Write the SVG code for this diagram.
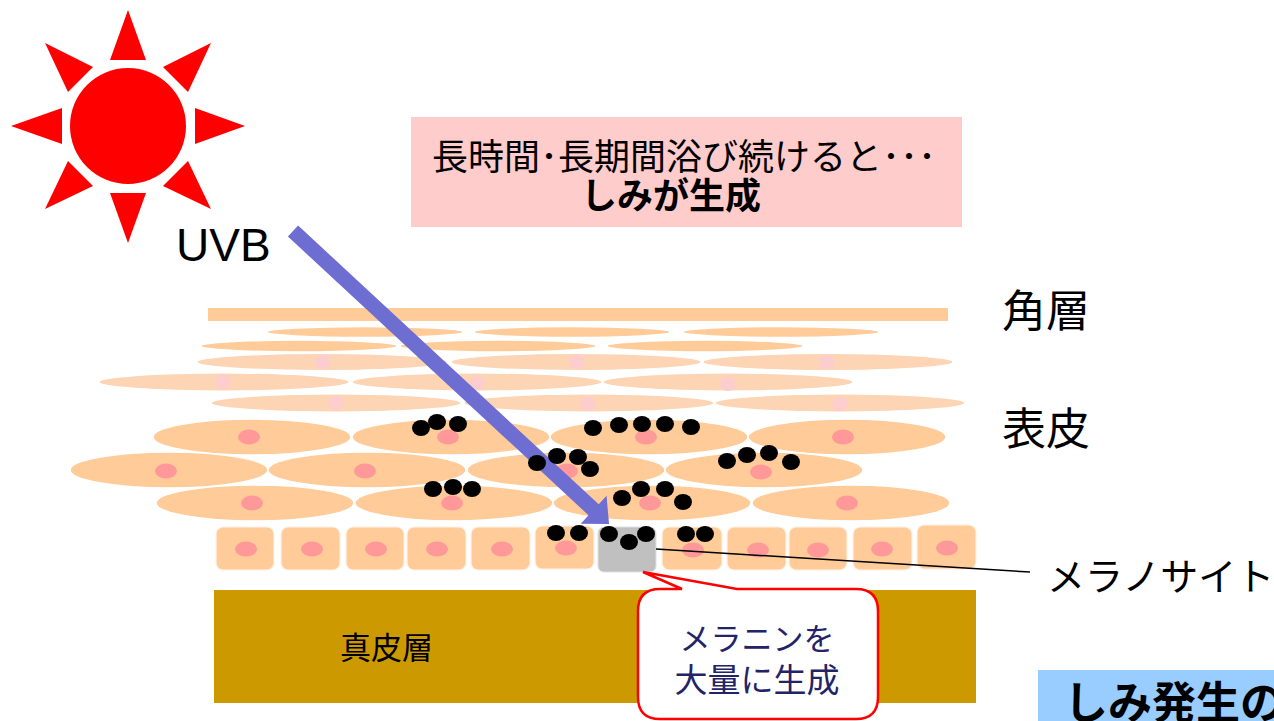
<svg xmlns="http://www.w3.org/2000/svg" width="1274" height="721" viewBox="0 0 1274 721">
  <style>
    .jp { font-family: "Liberation Sans", "Noto Sans CJK JP", sans-serif; fill: #000; }
    .skin { fill: #FFCC99; stroke: #FFFFFF; stroke-width: 1.5; }
    .skinL { fill: #FDD5B4; stroke: #FFFFFF; stroke-width: 1.2; }
    .nuc { fill: #FF9999; }
    .nucL { fill: #FDCDCD; }
    .dot { fill: #000; }
    .cell { fill: #FFCC99; stroke: #FFF2E6; stroke-width: 1.2; }
  </style>

  <rect width="1274" height="721" fill="#FFFFFF"/>

  <!-- sun -->
  <g id="sun" fill="#FF0000">
    <circle cx="128" cy="126" r="58"/>
    <polygon points="128,10 110,60 146,60"/>
    <polygon points="128,243 110,193 146,193"/>
    <polygon points="11,126 62,108 62,144"/>
    <polygon points="245,126 195,108 195,144"/>
    <polygon points="45,43 93,67 68,92"/>
    <polygon points="211,43 163,67 188,92"/>
    <polygon points="45,209 68,161 93,186"/>
    <polygon points="211,209 188,161 163,186"/>
  </g>

  <g id="uvb-label">
    <text x="176" y="261" font-family="Liberation Sans, Arial, sans-serif" font-size="46">UVB</text>
  </g>

  <!-- heading box -->
  <g id="heading">
    <rect x="411" y="117" width="551" height="110" fill="#FFCCCC"/>
    <text class="jp" x="684" y="170" font-size="36" text-anchor="middle">長時間･長期間浴び続けると･･･</text>
    <text class="jp" x="671" y="209" font-size="36" font-weight="bold" text-anchor="middle">しみが生成</text>
  </g>

  <!-- stratum corneum -->
  <g id="stratum-corneum">
    <rect x="208" y="308" width="740" height="13" fill="#FFCC99"/>
    <ellipse class="skin" cx="365" cy="332" rx="98" ry="5.5"/>
    <ellipse class="skin" cx="572" cy="332" rx="98" ry="5.5"/>
    <ellipse class="skin" cx="781" cy="332" rx="98" ry="5.5"/>
    <ellipse class="skin" cx="299" cy="346" rx="98" ry="6"/>
    <ellipse class="skin" cx="498" cy="346" rx="98" ry="6"/>
    <ellipse class="skin" cx="705" cy="346" rx="98" ry="6"/>
  </g>

  <!-- upper epidermis, flattened cells -->
  <g id="granular-layer">
    <ellipse class="skinL" cx="322" cy="362" rx="125" ry="8.5"/>
    <ellipse class="skinL" cx="576" cy="362" rx="125" ry="8.5"/>
    <ellipse class="skinL" cx="828" cy="362" rx="125" ry="8.5"/>
    <ellipse class="skinL" cx="224" cy="382" rx="125" ry="9"/>
    <ellipse class="skinL" cx="477" cy="382" rx="125" ry="9"/>
    <ellipse class="skinL" cx="728" cy="382" rx="125" ry="9"/>
    <ellipse class="skinL" cx="336" cy="403" rx="125" ry="9"/>
    <ellipse class="skinL" cx="589" cy="403" rx="125" ry="9"/>
    <ellipse class="skinL" cx="840" cy="403" rx="125" ry="9"/>
    <ellipse class="nucL" cx="323" cy="362" rx="8" ry="7"/>
    <ellipse class="nucL" cx="577" cy="362" rx="8" ry="7"/>
    <ellipse class="nucL" cx="827" cy="362" rx="8" ry="7"/>
    <ellipse class="nucL" cx="223" cy="382" rx="8" ry="7"/>
    <ellipse class="nucL" cx="477" cy="383" rx="8" ry="7"/>
    <ellipse class="nucL" cx="728" cy="384" rx="8" ry="7"/>
    <ellipse class="nucL" cx="336" cy="403" rx="8" ry="7"/>
    <ellipse class="nucL" cx="588" cy="404" rx="8" ry="7"/>
    <ellipse class="nucL" cx="840" cy="404" rx="8" ry="7"/>
  </g>

  <!-- spinous layer -->
  <g id="spinous-layer">
    <ellipse class="skin" cx="252" cy="437" rx="99" ry="18"/>
    <ellipse class="skin" cx="451" cy="437" rx="99" ry="18"/>
    <ellipse class="skin" cx="649" cy="437" rx="99" ry="18"/>
    <ellipse class="skin" cx="847" cy="437" rx="99" ry="18"/>
    <ellipse class="nuc" cx="249" cy="437" rx="11" ry="7.5"/>
    <ellipse class="nuc" cx="448" cy="437" rx="11" ry="7.5"/>
    <ellipse class="nuc" cx="646" cy="437" rx="11" ry="7.5"/>
    <ellipse class="nuc" cx="843" cy="437" rx="11" ry="7.5"/>

    <ellipse class="skin" cx="169" cy="470" rx="99" ry="18"/>
    <ellipse class="skin" cx="367" cy="470" rx="99" ry="18"/>
    <ellipse class="skin" cx="566" cy="470" rx="99" ry="18"/>
    <ellipse class="skin" cx="764" cy="470" rx="99" ry="18"/>
    <ellipse class="nuc" cx="166" cy="471" rx="11" ry="7.5"/>
    <ellipse class="nuc" cx="365" cy="471" rx="11" ry="7.5"/>
    <ellipse class="nuc" cx="567" cy="471" rx="11" ry="7.5"/>
    <ellipse class="nuc" cx="761" cy="472" rx="11" ry="7.5"/>

    <ellipse class="skin" cx="255" cy="503" rx="99" ry="18"/>
    <ellipse class="skin" cx="454" cy="503" rx="99" ry="18"/>
    <ellipse class="skin" cx="652" cy="503" rx="99" ry="18"/>
    <ellipse class="skin" cx="851" cy="503" rx="99" ry="18"/>
    <ellipse class="nuc" cx="252" cy="503" rx="11" ry="7.5"/>
    <ellipse class="nuc" cx="452" cy="503" rx="11" ry="7.5"/>
    <ellipse class="nuc" cx="650" cy="503" rx="11" ry="7.5"/>
    <ellipse class="nuc" cx="847" cy="503" rx="11" ry="7.5"/>
  </g>

  <!-- basal layer -->
  <g id="basal-layer">
    <rect class="cell" x="216" y="527" width="58" height="43" rx="7"/>
    <rect class="cell" x="281" y="527" width="59" height="43" rx="7"/>
    <rect class="cell" x="346" y="527" width="58" height="43" rx="7"/>
    <rect class="cell" x="407" y="527" width="59" height="43" rx="7"/>
    <rect class="cell" x="471" y="527" width="59" height="43" rx="7"/>
    <rect class="cell" x="535" y="526" width="59" height="43" rx="7"/>
    <rect class="cell" x="662" y="527" width="60" height="43" rx="7"/>
    <rect class="cell" x="727" y="527" width="59" height="43" rx="7"/>
    <rect class="cell" x="789" y="527" width="58" height="43" rx="7"/>
    <rect class="cell" x="853" y="527" width="59" height="43" rx="7"/>
    <rect class="cell" x="917" y="525" width="59" height="44" rx="7"/>
    <ellipse class="nuc" cx="246" cy="549" rx="11" ry="7.5"/>
    <ellipse class="nuc" cx="312" cy="549" rx="11" ry="7.5"/>
    <ellipse class="nuc" cx="376" cy="549" rx="11" ry="7.5"/>
    <ellipse class="nuc" cx="437" cy="549" rx="11" ry="7.5"/>
    <ellipse class="nuc" cx="502" cy="549" rx="11" ry="7.5"/>
    <ellipse class="nuc" cx="566" cy="548" rx="11" ry="7.5"/>
    <ellipse class="nuc" cx="693" cy="550" rx="11" ry="7.5"/>
    <ellipse class="nuc" cx="758" cy="550" rx="11" ry="7.5"/>
    <ellipse class="nuc" cx="818" cy="550" rx="11" ry="7.5"/>
    <ellipse class="nuc" cx="882" cy="549" rx="11" ry="7.5"/>
    <ellipse class="nuc" cx="947" cy="548" rx="11" ry="7.5"/>
  </g>

  <!-- melanocyte -->
  <g id="melanocyte">
    <rect x="598" y="527" width="58" height="45" rx="6" fill="#C0C0C0" stroke="#E0E0E0" stroke-width="1"/>
  </g>

  <!-- dermis -->
  <g id="dermis">
    <rect x="214" y="590" width="762" height="113" fill="#CC9900"/>
    <text class="jp" x="340" y="659" font-size="31">真皮層</text>
  </g>

  <!-- connectors -->
  <g id="connectors">
    <g transform="translate(293,231) rotate(42.84)">
      <polygon points="0,-7.5 410,-7.5 410,-19 431,0 410,19 410,7.5 0,7.5" fill="#6E6ED2"/>
    </g>
    <line x1="656" y1="549" x2="1030" y2="572" stroke="#000" stroke-width="1.5"/>
  </g>

  <!-- melanin granules -->
  <g id="melanin">
    <ellipse class="dot" cx="421" cy="428" rx="9" ry="8"/>
    <ellipse class="dot" cx="437" cy="422" rx="9" ry="8"/>
    <ellipse class="dot" cx="458" cy="424" rx="9" ry="8"/>
    <ellipse class="dot" cx="433" cy="489" rx="9" ry="8"/>
    <ellipse class="dot" cx="453" cy="487" rx="9" ry="8"/>
    <ellipse class="dot" cx="472" cy="489" rx="9" ry="8"/>
    <ellipse class="dot" cx="593" cy="428" rx="9" ry="8"/>
    <ellipse class="dot" cx="619" cy="425" rx="9" ry="8"/>
    <ellipse class="dot" cx="642" cy="424" rx="9" ry="8"/>
    <ellipse class="dot" cx="665" cy="424" rx="9" ry="8"/>
    <ellipse class="dot" cx="691" cy="427" rx="9" ry="8"/>
    <ellipse class="dot" cx="537" cy="463" rx="9" ry="8"/>
    <ellipse class="dot" cx="557" cy="456" rx="9" ry="8"/>
    <ellipse class="dot" cx="578" cy="457" rx="9" ry="8"/>
    <ellipse class="dot" cx="590" cy="469" rx="9" ry="8"/>
    <ellipse class="dot" cx="727" cy="461" rx="9" ry="8"/>
    <ellipse class="dot" cx="747" cy="455" rx="9" ry="8"/>
    <ellipse class="dot" cx="769" cy="453" rx="9" ry="8"/>
    <ellipse class="dot" cx="791" cy="462" rx="9" ry="8"/>
    <ellipse class="dot" cx="622" cy="498" rx="9" ry="8"/>
    <ellipse class="dot" cx="641" cy="489" rx="9" ry="8"/>
    <ellipse class="dot" cx="665" cy="489" rx="9" ry="8"/>
    <ellipse class="dot" cx="683" cy="502" rx="9" ry="8"/>
    <ellipse class="dot" cx="556" cy="533" rx="9" ry="8"/>
    <ellipse class="dot" cx="579" cy="533" rx="9" ry="8"/>
    <ellipse class="dot" cx="609" cy="534" rx="9" ry="8"/>
    <ellipse class="dot" cx="629" cy="542" rx="9" ry="8"/>
    <ellipse class="dot" cx="646" cy="534" rx="9" ry="8"/>
    <ellipse class="dot" cx="686" cy="534" rx="9" ry="8"/>
    <ellipse class="dot" cx="705" cy="534" rx="9" ry="8"/>
  </g>

  <!-- callout -->
  <g id="callout">
    <path d="M682,589 L643,572 L737,589 L856,589 Q878,589 878,611 L878,697 Q878,719 856,719 L660,719 Q638,719 638,697 L638,611 Q638,589 660,589 Z" fill="#FFFFFF" stroke="#FF0000" stroke-width="2.5" stroke-linejoin="miter"/>
    <text class="jp" x="757" y="650" font-size="31" text-anchor="middle" style="fill:#232368">メラニンを</text>
    <text class="jp" x="757" y="692" font-size="33" text-anchor="middle" style="fill:#232368">大量に生成</text>
  </g>

  <!-- side labels -->
  <g id="labels">
    <text class="jp" x="1002" y="327" font-size="44">角層</text>
    <text class="jp" x="1002" y="445" font-size="44">表皮</text>
    <text class="jp" x="1047" y="590" font-size="38">メラノサイト</text>
  </g>

  <!-- title strip, runs past the right and bottom edges -->
  <g id="title">
    <rect x="1038" y="670" width="236" height="51" fill="#99CCFF"/>
    <text class="jp" x="1064" y="719" font-size="44" font-weight="bold">しみ発生の</text>
  </g>
</svg>
